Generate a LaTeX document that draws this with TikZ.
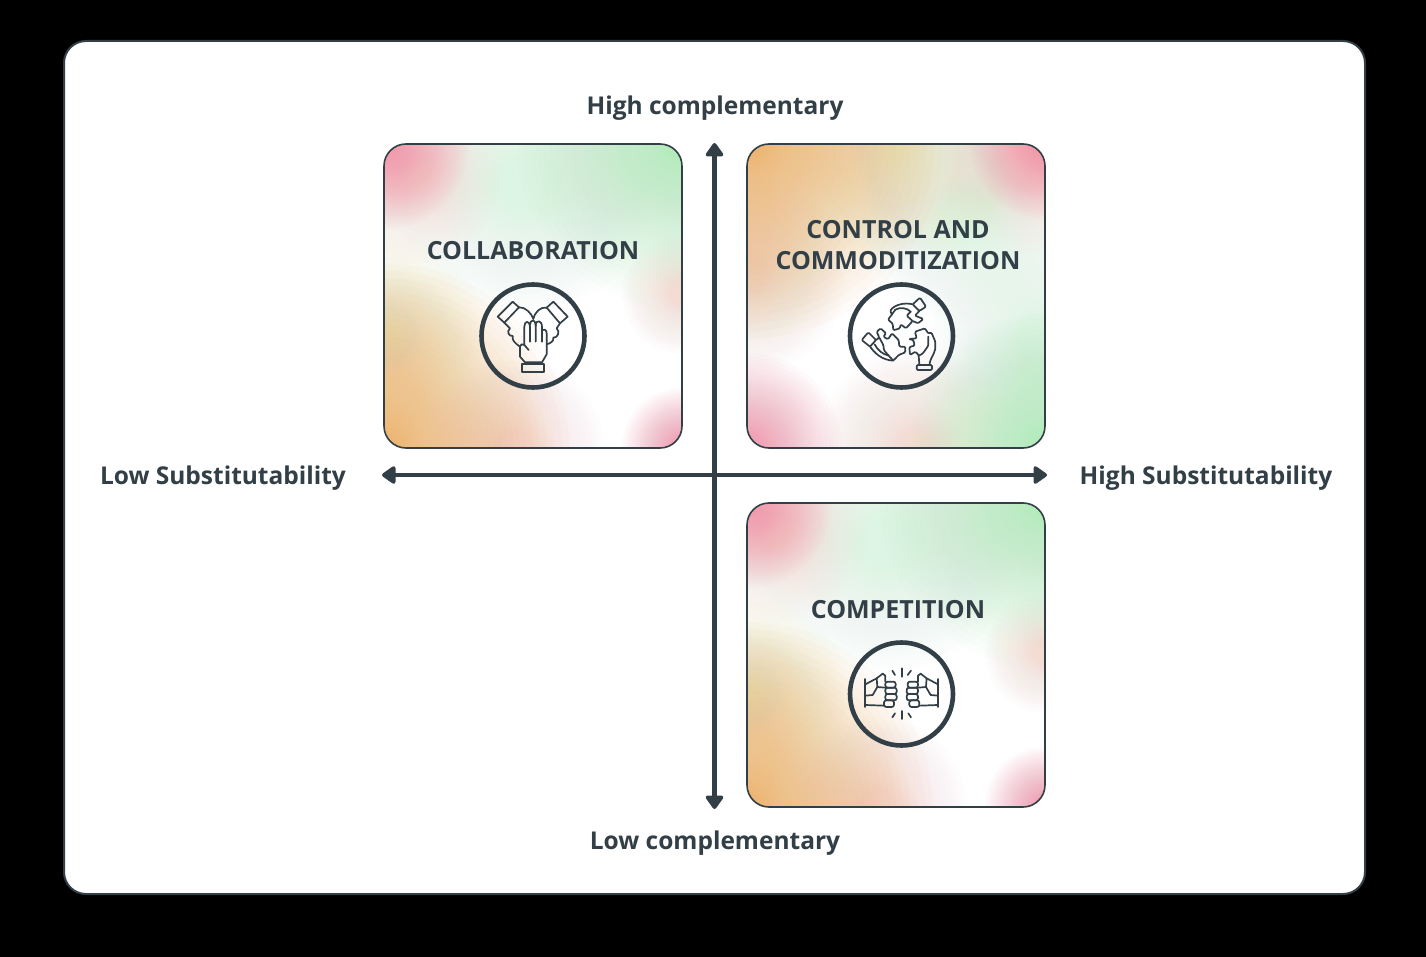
\documentclass[tikz,border=0pt]{standalone}
\usepackage{fontspec}
\setmainfont{Open Sans}
\usetikzlibrary{arrows.meta}
\definecolor{ink}{HTML}{323F46}
\definecolor{cpink}{HTML}{F08CA5}
\definecolor{cgreen}{HTML}{ABEBB5}
\definecolor{corange}{HTML}{EDAE5F}
\definecolor{cmint}{HTML}{DDF5E4}
\definecolor{cpeach}{HTML}{F3DCD2}
\definecolor{cpale}{HTML}{E6E8C4}
\definecolor{cblush}{HTML}{F9DCE0}
\tikzset{
  x=1pt,y=-1pt,
  panel/.style={draw=ink,line width=2pt,fill=white,rounded corners=22pt},
  cardedge/.style={draw=ink,line width=1.6pt,rounded corners=22pt},
  lab/.style={font=\bfseries\fontsize{25}{31}\selectfont,text=ink,align=center,inner sep=0pt},
  axlab/.style={font=\bfseries\fontsize{24.5}{31}\selectfont,text=ink,inner sep=0pt},
  axisline/.style={draw=ink,line width=4.6pt,{Triangle[length=15pt,width=20pt,line join=round]}-{Triangle[length=15pt,width=20pt,line join=round]}},
  ring/.style={draw=ink,line width=4.6pt,circle,minimum size=103pt,inner sep=0pt},
  icon/.style={draw=ink,line width=1.7pt,line join=round,line cap=round},
  soft/.style={icon,rounded corners=1.2pt}
}
% a soft glow: stacked faint discs, denser towards the centre
\newcommand{\glowat}[4]{%
  \foreach \i in {1,...,60}{%
    \pgfmathsetmacro\rr{#4*pow(\i/60,2.5)}%
    \fill[#1,fill opacity=0.04] (#2,#3) circle[radius=\rr];
  }}
\newcommand{\cardA}[2]{%
  \begin{scope}[shift={(#1,#2)}]
    \begin{scope}
      \clip[rounded corners=22pt] (0,0) rectangle (298,304);
      \fill[white] (0,0) rectangle (298,304);
      \glowat{cmint}{140}{40}{130}
      \glowat{cgreen}{298}{0}{165}
      \glowat{cpale}{0}{190}{100}
      \glowat{cpeach}{298}{150}{60}
      \glowat{cblush}{130}{304}{90}
      \glowat{corange}{0}{304}{185}
      \glowat{cpeach}{30}{30}{90}
      \glowat{cpink}{0}{0}{85}
      \glowat{white}{225}{245}{85}
      \glowat{cpink}{298}{304}{60}
    \end{scope}
    \draw[cardedge] (0,0) rectangle (298,304);
  \end{scope}}
\newcommand{\cardB}[2]{%
  \begin{scope}[shift={(#1,#2)}]
    \begin{scope}
      \clip[rounded corners=22pt] (0,0) rectangle (298,304);
      \fill[white] (0,0) rectangle (298,304);
      \glowat{cmint}{220}{70}{110}
      \glowat{cpale}{150}{0}{120}
      \glowat{cmint}{298}{200}{115}
      \glowat{cpeach}{170}{304}{100}
      \glowat{cgreen}{298}{304}{135}
      \glowat{cpeach}{0}{130}{100}
      \glowat{corange}{0}{0}{195}
      \glowat{cpeach}{280}{20}{90}
      \glowat{cpink}{298}{0}{75}
      \glowat{cpink}{0}{304}{95}
    \end{scope}
    \draw[cardedge] (0,0) rectangle (298,304);
  \end{scope}}
\begin{document}
\begin{tikzpicture}
\useasboundingbox (0,0) rectangle (1426,957);
\fill[black] (0,0) rectangle (1426,957);
\draw[panel] (64,41) rectangle (1365,894);

\cardA{384}{144}
\cardB{747}{144}
\cardA{747}{503}

% axes
\coordinate (axT) at (714.5,143);
\coordinate (axB) at (714.5,809);
\coordinate (axL) at (382,475);
\coordinate (axR) at (1047,475);
\draw[axisline] (axT) -- (axB);
\draw[axisline] (axL) -- (axR);

% labels
\node[axlab] (hc) at (715,108.5) {High complementary};
\node[axlab] (lc) at (715,843.5) {Low complementary};
\node[axlab] (ls) at (223,478.5) {Low Substitutability};
\node[axlab] (hs) at (1206,478.5) {High Substitutability};
\node[lab] (t1) at (533,250.5) {COLLABORATION};
\node[lab] (t2) at (898,245) {CONTROL AND\\COMMODITIZATION};
\node[lab] (t3) at (898,610) {COMPETITION};

% rings
\node[ring] (r1) at (533,336) {};
\node[ring] (r2) at (901.5,336) {};
\node[ring] (r3) at (901.5,694) {};

% icon 1: three hands
\begin{scope}[shift={(470,275)},x=0.3333pt,y=-0.3333pt]
  \draw[icon] (83,125) -- (128,80) -- (147,97) -- (103,143) -- cycle;
  \draw[icon] (230,98) -- (250,80) -- (293,125) -- (270,145) -- cycle;
  \draw[icon] (147,97) .. controls (165,95) and (185,115) .. (190,132);
  \draw[icon] (230,98) .. controls (212,95) and (195,110) .. (190,132);
  \draw[icon] (103,143) -- (120,160) .. controls (108,170) and (118,185) .. (128,183) .. controls (125,195) and (135,205) .. (150,215);
  \draw[icon] (270,145) -- (260,160) .. controls (272,170) and (262,190) .. (250,188) .. controls (252,200) and (240,205) .. (230,208);
  \draw[icon] (163,210) -- (163,155) .. controls (163,136) and (180,136) .. (180,155) -- (180,200);
  \draw[icon] (180,150) .. controls (180,132) and (197,132) .. (197,150) -- (197,200);
  \draw[icon] (197,152) .. controls (197,133) and (216,135) .. (216,155) -- (216,200);
  \draw[icon] (216,165) .. controls (222,160) and (230,165) .. (230,175) -- (230,238) -- (216,262) -- (165,262) -- (150,245) -- (150,215) .. controls (150,208) and (158,205) .. (163,210) -- (176,225);
  \draw[icon] (155,268) rectangle (223,290);
\end{scope}

% icon 2: puzzle hands
\begin{scope}[shift={(860,295)},x=0.3333pt,y=-0.3333pt]
  % top hand
  \draw[soft] (158,28) -- (180,8) -- (198,35) -- (178,48) -- cycle;
  \draw[soft] (158,28) .. controls (135,22) and (105,28) .. (90,48) -- (96,58);
  \draw[soft] (106,44) .. controls (120,36) and (140,38) .. (152,50);
  \draw[soft] (178,48) -- (165,62) -- (190,72) -- (174,85) -- (158,78);
  \draw[soft] (96,58) -- (84,74) -- (98,86) -- (100,106) -- (120,100) -- (122,88) -- (138,100) -- (158,78) -- (140,62) -- (152,50);
  \draw[soft] (96,58) -- (106,44);
  % left hand
  \draw[soft] (5,135) -- (25,112) -- (48,135) -- (30,155) -- cycle;
  \draw[soft] (30,155) .. controls (45,175) and (65,195) .. (100,197);
  \draw[soft] (44,148) .. controls (52,165) and (68,178) .. (86,182);
  \draw[soft] (48,135) -- (58,128) -- (50,110) -- (62,100) -- (78,115) -- (70,125) -- (84,133) -- (96,115) -- (116,135) -- (118,155) -- (136,155) -- (136,172) -- (116,180) -- (100,197) -- (86,182) -- (72,166) -- (70,150) -- (58,128);
  % right hand
  \draw[soft] (170,210) rectangle (216,225);
  \draw[soft] (178,210) -- (176,180) -- (166,170) -- (150,180) -- (148,156) -- (164,152) -- (160,135) -- (146,132) -- (170,130) -- (165,110) -- (195,100) -- (205,116) -- (214,112) -- (226,140) -- (226,160) .. controls (222,180) and (210,190) .. (208,210);
  \draw[soft] (205,125) -- (205,152) -- (188,176) -- (176,182);
\end{scope}

% icon 3: fists
\newcommand{\fistpaths}{%
  \draw[icon] (16,72) -- (16,156);
  \draw[icon] (16,88) -- (50,70) -- (68,56) -- (76,62) -- (76,80);
  \draw[icon] (50,70) -- (52,96) -- (76,98);
  \draw[icon] (16,122) -- (38,120) -- (52,96);
  \draw[icon] (16,150) -- (72,152);
  \draw[icon,rounded corners=2.3pt] (76,80) rectangle (107,98);
  \draw[icon,rounded corners=2.3pt] (76,98) rectangle (110,117);
  \draw[icon,rounded corners=2.3pt] (76,117) rectangle (110,136);
  \draw[icon,rounded corners=2.3pt] (72,136) rectangle (102,156);
}
\begin{scope}[shift={(860,655)},x=0.3333pt,y=-0.3333pt]
  \fistpaths
  \draw[icon] (125,40) -- (125,65);
  \draw[icon] (97,47) -- (105,60);
  \draw[icon] (153,47) -- (143,60);
  \draw[icon] (125,168) -- (125,192);
  \draw[icon] (97,187) -- (105,175);
  \draw[icon] (153,187) -- (145,175);
\end{scope}
\begin{scope}[shift={(943.3,655)},x=-0.3333pt,y=-0.3333pt]
  \fistpaths
\end{scope}
\end{tikzpicture}
\end{document}
